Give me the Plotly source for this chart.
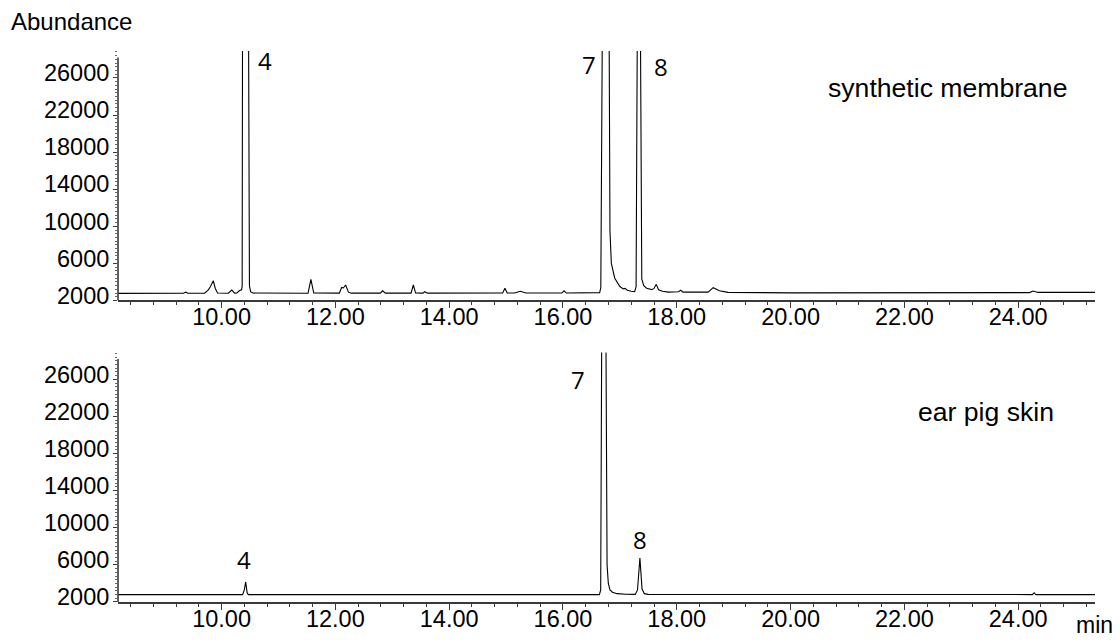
import plotly.graph_objects as go

# ---------------- data ----------------
# upper chromatogram: synthetic membrane (retention time in min, abundance)
top_time = [8.18, 8.76, 8.80, 8.84, 9.33, 9.37, 9.41, 9.70, 9.76, 9.80, 9.855, 9.89, 9.93,
            10.12, 10.18, 10.23, 10.27, 10.31, 10.35, 10.362, 10.368, 10.425, 10.480, 10.49,
            10.51, 10.55, 11.52, 11.57, 11.62, 12.07, 12.11, 12.14, 12.18, 12.23, 12.28,
            12.79, 12.83, 12.88, 13.33, 13.37, 13.41, 13.54, 13.57, 13.62, 14.94, 14.98,
            15.02, 15.15, 15.25, 15.35, 15.98, 16.02, 16.06, 16.645, 16.665, 16.69, 16.75,
            16.808, 16.826, 16.85, 16.91, 17.00, 17.06, 17.09, 17.13, 17.20, 17.26, 17.285,
            17.305, 17.335, 17.363, 17.385, 17.42, 17.47, 17.56, 17.60, 17.64, 17.68, 17.75,
            17.85, 18.03, 18.07, 18.11, 18.55, 18.64, 18.75, 18.90, 20.00, 22.00, 24.20,
            24.26, 24.35, 25.35]
top_abund = [2770, 2770, 2850, 2770, 2780, 2900, 2780, 2780, 3100, 3450, 4130, 3300, 2800,
             2780, 3130, 2790, 2800, 3050, 3150, 3500, 29500, 120000, 29500, 3600,
             2950, 2800, 2780, 4280, 2800, 2790, 3400, 3350, 3670, 2900, 2790,
             2790, 3050, 2790, 2790, 3670, 2800, 2790, 2950, 2790, 2800, 3310,
             2800, 2800, 3000, 2800, 2800, 3050, 2800, 2850, 3400, 29500, 120000,
             29500, 9500, 6000, 4400, 3500, 3250, 3300, 3100, 3000, 2950, 3500,
             29500, 120000, 29500, 4300, 3600, 3330, 3170, 3300, 3740, 3150, 3000,
             2900, 2950, 3100, 2900, 2900, 3380, 3050, 2880, 2820, 2830, 2850,
             3020, 2870, 2880]

# lower chromatogram: ear pig skin
bot_time = [8.18, 10.37, 10.40, 10.424, 10.45, 10.47, 16.64, 16.663, 16.68, 16.72, 16.756,
            16.775, 16.797, 16.826, 16.87, 16.95, 17.10, 17.27, 17.31, 17.352, 17.39,
            17.43, 17.50, 20.00, 24.25, 24.28, 24.31, 25.35]
bot_abund = [2800, 2800, 3300, 4160, 3000, 2800, 2800, 3300, 29500, 100000, 29500,
             6000, 4000, 3300, 3050, 2900, 2830, 2820, 3300, 6750, 3400,
             2900, 2820, 2800, 2800, 3000, 2800, 2800]

x_tick_vals = [10, 12, 14, 16, 18, 20, 22, 24]
x_tick_text = ["10.00", "12.00", "14.00", "16.00", "18.00", "20.00", "22.00", "24.00"]
y_tick_vals = [2000, 6000, 10000, 14000, 18000, 22000, 26000]
y_tick_text = ["2000", "6000", "10000", "14000", "18000", "22000", "26000"]

# peak labels: (time, abundance, text)
top_labels_t = [10.763, 16.458, 17.723]
top_labels_y = [27850, 27420, 27250]
top_labels_s = ["4", "7", "8"]
bot_labels_t = [10.403, 16.27, 17.354]
bot_labels_y = [6580, 25980, 8720]
bot_labels_s = ["4", "7", "8"]

# ---------------- figure ----------------
AX_FONT = dict(family="Liberation Sans, Arial, sans-serif", size=23.5, color="black")
LINE_C = "#3a3a3a"

fig = go.Figure()
fig.add_trace(go.Scatter(x=top_time, y=top_abund, mode="lines",
                         line=dict(color="black", width=1.1), xaxis="x", yaxis="y",
                         showlegend=False, hoverinfo="skip"))
fig.add_trace(go.Scatter(x=bot_time, y=bot_abund, mode="lines",
                         line=dict(color="black", width=1.1), xaxis="x2", yaxis="y2",
                         showlegend=False, hoverinfo="skip"))

XR = [8.18, 25.35]
YR = [2000, 28900]

def xaxis(domain_anchor):
    return dict(range=XR, anchor=domain_anchor, showline=True, linecolor=LINE_C, linewidth=1.6,
                ticks="outside", ticklen=6, tickwidth=1.2, tickcolor=LINE_C,
                tickvals=x_tick_vals, ticktext=x_tick_text, tickfont=AX_FONT,
                ticklabelstandoff=-11,
                minor=dict(dtick=0.4, tick0=0, ticks="outside", ticklen=3, tickwidth=1,
                           tickcolor=LINE_C, showgrid=False),
                showgrid=False, zeroline=False, fixedrange=True, automargin=False)

def yaxis(domain, anchor):
    return dict(range=YR, domain=domain, anchor=anchor, showline=False,
                ticks="outside", ticklen=4, tickwidth=1.2, tickcolor=LINE_C,
                tickvals=y_tick_vals, ticktext=y_tick_text, tickfont=AX_FONT,
                ticklabelshift=-5, ticklabelstandoff=-1,
                minor=dict(dtick=400, tick0=2000, ticks="outside", ticklen=2, tickwidth=1,
                           tickcolor="#666666", showgrid=False),
                showgrid=False, zeroline=False, fixedrange=True, automargin=False)

fig.update_layout(
    template="none",
    width=1120, height=641,
    margin=dict(l=118, r=25, t=51, b=39, autoexpand=False),
    paper_bgcolor="white", plot_bgcolor="white",
    xaxis=xaxis("y"), xaxis2=xaxis("y2"),
    yaxis=yaxis([0.5472, 1.0], "x"), yaxis2=yaxis([0.0, 0.4528], "x2"),
    showlegend=False,
)

# y-axis lines (end slightly below the top of the plotting area, as in the original)
for xr, yr in (("x domain", "y"), ("x2 domain", "y2")):
    fig.add_shape(type="line", xref=xr, yref=yr, x0=0, x1=0, y0=2000, y1=28200,
                  line=dict(color=LINE_C, width=1.6))

LBL_FONT = dict(family="Open Sans, Noto Sans, sans-serif", size=24, color="black")
for t, v, s in zip(top_labels_t, top_labels_y, top_labels_s):
    fig.add_annotation(x=t, y=v, xref="x", yref="y", text=s, showarrow=False, font=LBL_FONT)
for t, v, s in zip(bot_labels_t, bot_labels_y, bot_labels_s):
    fig.add_annotation(x=t, y=v, xref="x2", yref="y2", text=s, showarrow=False, font=LBL_FONT)

TXT_FONT = dict(family="Liberation Sans, Arial, sans-serif", size=26.6, color="black")
fig.add_annotation(x=22.758, y=24950, xref="x", yref="y", text="synthetic membrane",
                   showarrow=False, font=TXT_FONT)
fig.add_annotation(x=23.426, y=22530, xref="x2", yref="y2", text="ear pig skin",
                   showarrow=False, font=TXT_FONT)

fig.add_annotation(x=-0.1116, y=1.0533, xref="paper", yref="paper", text="Abundance",
                   xanchor="left", yanchor="middle", showarrow=False,
                   font=dict(family="Liberation Sans, Arial, sans-serif", size=24, color="black"))
fig.add_annotation(x=0.9995, y=-0.0417, xref="paper", yref="paper", text="min",
                   xanchor="center", yanchor="middle", showarrow=False,
                   font=dict(family="Liberation Sans, Arial, sans-serif", size=23, color="black"))

fig.write_html("out.html", config={"displayModeBar": False},
               post_script="document.body.style.margin='0px';")
